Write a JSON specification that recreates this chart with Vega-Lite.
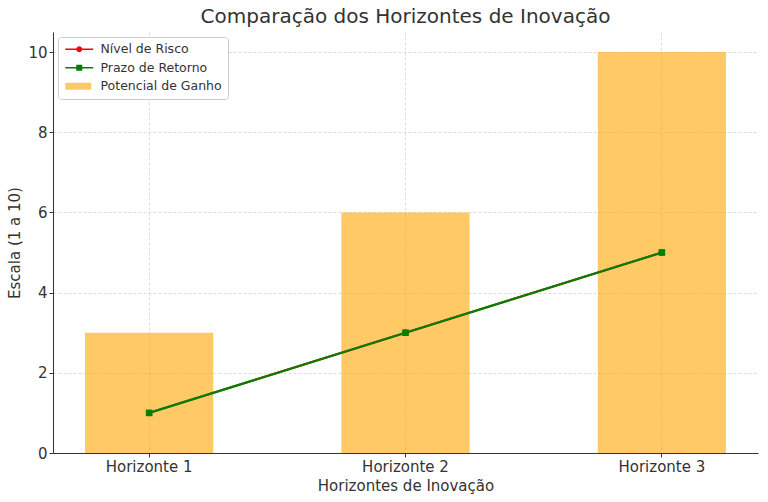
{
  "$schema": "https://vega.github.io/schema/vega-lite/v6.json",
  "width": 705,
  "height": 421,
  "autosize": {"type": "none"},
  "padding": {"left": 53, "top": 32, "right": 10, "bottom": 49},
  "background": "white",
  "title": {
    "text": "Comparação dos Horizontes de Inovação",
    "anchor": "middle",
    "font": "DejaVu Sans",
    "fontSize": 20,
    "fontWeight": "normal",
    "color": "#333333",
    "offset": 5
  },
  "config": {
    "view": {"stroke": null},
    "font": "DejaVu Sans",
    "axis": {
      "labelFont": "DejaVu Sans",
      "labelFontSize": 15,
      "labelColor": "#333333",
      "titleFont": "DejaVu Sans",
      "titleFontSize": 15,
      "titleFontWeight": "normal",
      "titleColor": "#333333",
      "domainColor": "#333333",
      "tickColor": "#333333",
      "tickSize": 4,
      "gridColor": "#d3d3d3",
      "gridDash": [3, 2],
      "gridWidth": 0.8
    },
    "legend": {
      "orient": "top-left",
      "offset": 5,
      "fillColor": "white",
      "strokeColor": "#cccccc",
      "cornerRadius": 3,
      "padding": 6,
      "rowPadding": 5.5,
      "labelFont": "DejaVu Sans",
      "labelFontSize": 12.5,
      "labelColor": "#333333",
      "labelOffset": 24,
      "symbolSize": 100,
      "symbolStrokeWidth": 0
    }
  },
  "data": {
    "values": [
      {"serie": "Nível de Risco", "horizonte": "Horizonte 1", "valor": 1},
      {"serie": "Nível de Risco", "horizonte": "Horizonte 2", "valor": 3},
      {"serie": "Nível de Risco", "horizonte": "Horizonte 3", "valor": 5},
      {"serie": "Prazo de Retorno", "horizonte": "Horizonte 1", "valor": 1},
      {"serie": "Prazo de Retorno", "horizonte": "Horizonte 2", "valor": 3},
      {"serie": "Prazo de Retorno", "horizonte": "Horizonte 3", "valor": 5},
      {"serie": "Potencial de Ganho", "horizonte": "Horizonte 1", "valor": 3},
      {"serie": "Potencial de Ganho", "horizonte": "Horizonte 2", "valor": 6},
      {"serie": "Potencial de Ganho", "horizonte": "Horizonte 3", "valor": 10}
    ]
  },
  "encoding": {
    "x": {
      "field": "horizonte",
      "type": "nominal",
      "scale": {"paddingInner": 0.5, "paddingOuter": 0.125},
      "axis": {"labelAngle": 0, "title": "Horizontes de Inovação", "grid": true, "bandPosition": 0.5, "titlePadding": 4}
    },
    "y": {
      "field": "valor",
      "type": "quantitative",
      "scale": {"domain": [0, 10.5], "nice": false},
      "axis": {"values": [0, 2, 4, 6, 8, 10], "title": "Escala (1 a 10)", "titlePadding": 5}
    }
  },
  "layer": [
    {
      "transform": [{"filter": "datum.serie === 'Potencial de Ganho'"}],
      "mark": {"type": "bar", "color": "#FFA500", "opacity": 0.6}
    },
    {
      "transform": [{"filter": "datum.serie === 'Nível de Risco'"}],
      "mark": {"type": "line", "color": "red", "strokeWidth": 2}
    },
    {
      "transform": [{"filter": "datum.serie === 'Nível de Risco'"}],
      "mark": {"type": "point", "shape": "circle", "filled": true, "color": "red", "size": 40, "opacity": 1}
    },
    {
      "transform": [{"filter": "datum.serie === 'Prazo de Retorno'"}],
      "mark": {"type": "line", "color": "green", "strokeWidth": 2.2}
    },
    {
      "transform": [{"filter": "datum.serie === 'Prazo de Retorno'"}],
      "mark": {"type": "point", "shape": "square", "filled": true, "color": "green", "size": 44, "opacity": 1}
    },
    {
      "transform": [{"filter": "false"}],
      "mark": {"type": "point", "filled": true, "opacity": 1},
      "encoding": {
        "color": {
          "field": "serie",
          "type": "nominal",
          "scale": {
            "domain": ["Nível de Risco", "Prazo de Retorno", "Potencial de Ganho"],
            "range": ["red", "green", "#FFC966"]
          },
          "legend": {"title": null}
        },
        "shape": {
          "field": "serie",
          "type": "nominal",
          "scale": {
            "domain": ["Nível de Risco", "Prazo de Retorno", "Potencial de Ganho"],
            "range": [
              "M-1,-0.15H4.6V0.15H-1Z M1.2,0A0.6,0.6 0 1,1 2.4,0A0.6,0.6 0 1,1 1.2,0Z",
              "M-1,-0.15H4.6V0.15H-1Z M1.2,-0.6H2.4V0.6H1.2Z",
              "M-1,-0.7H4.2V0.7H-1Z"
            ]
          },
          "legend": {"title": null}
        }
      }
    }
  ]
}
